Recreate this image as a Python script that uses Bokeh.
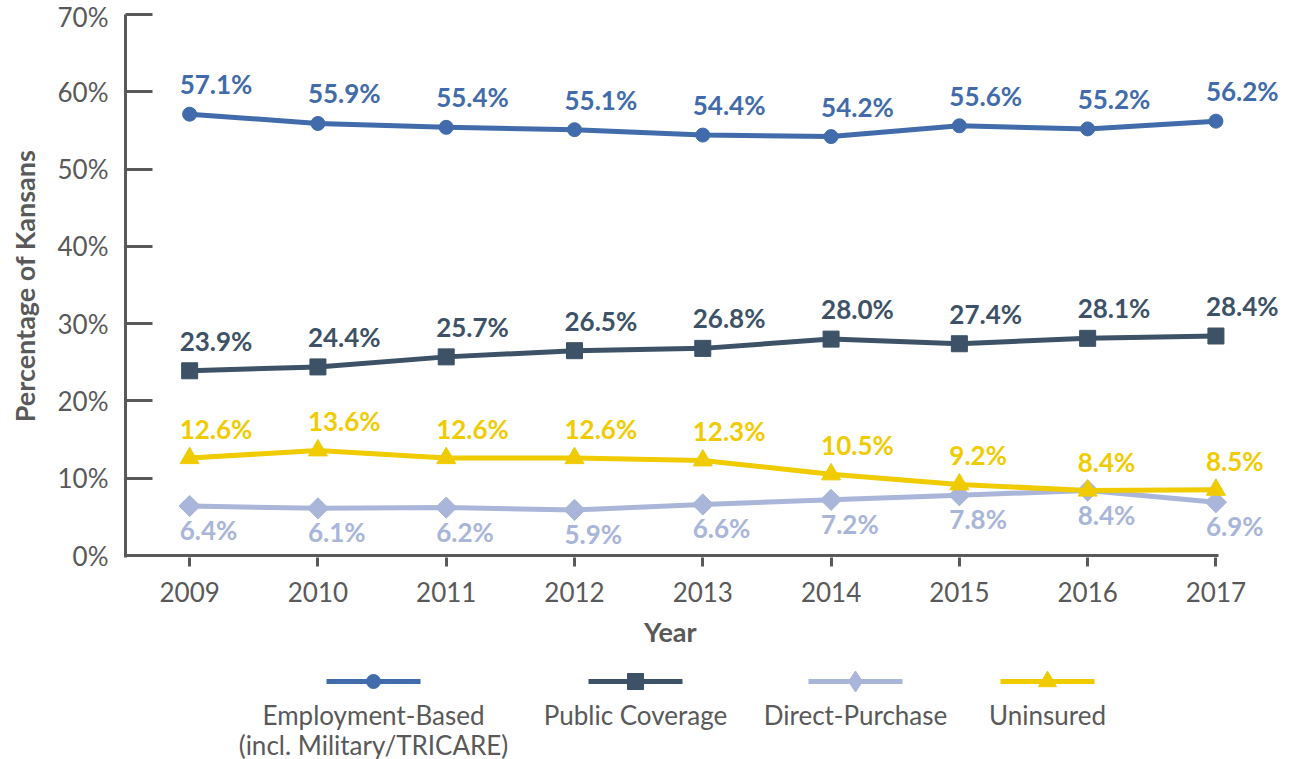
from bokeh.plotting import figure
from bokeh.models import ColumnDataSource, LabelSet, FixedTicker, PrintfTickFormatter, Range1d, Title
from bokeh.layouts import column
from bokeh.embed import file_html
from bokeh.resources import INLINE
from bokeh.core.properties import value
import math

years = [2009, 2010, 2011, 2012, 2013, 2014, 2015, 2016, 2017]
employment = [57.1, 55.9, 55.4, 55.1, 54.4, 54.2, 55.6, 55.2, 56.2]
public = [23.9, 24.4, 25.7, 26.5, 26.8, 28.0, 27.4, 28.1, 28.4]
direct = [6.4, 6.1, 6.2, 5.9, 6.6, 7.2, 7.8, 8.4, 6.9]
uninsured = [12.6, 13.6, 12.6, 12.6, 12.3, 10.5, 9.2, 8.4, 8.5]
series_names = ["Employment-Based\n(incl. Military/TRICARE)", "Public Coverage", "Direct-Purchase", "Uninsured"]
y_ticks = [0, 10, 20, 30, 40, 50, 60, 70]

FONT = "Lato"
GREY = "#595959"
colors = ["#416BAA", "#3D5266", "#A9B5D9", "#F0CB00"]
markers = ["circle", "square", "square", "triangle"]
angles = [0, 0, math.pi / 4, 0]
msizes = [14, 16, 15, 19]
leg_markers = ["circle", "square", "diamond", "triangle"]
leg_sizes = [14, 16, 21, 18]
data = [employment, public, direct, uninsured]
label_off = [-30, -30, 24, -29]
LBL = "26px"

# geometry of the frame (page pixels)
FR_L, FR_R_AXIS, FR_R, FR_T, FR_B0 = 125, 1218, 1290, 14, 555
X0 = years[0] - 0.5
X_AXIS_END = years[-1] + 0.02
ppu_x = (FR_R_AXIS - FR_L) / (X_AXIS_END - X0)
X_END = X0 + (FR_R - FR_L) / ppu_x
ppu_y = (FR_B0 - FR_T) / y_ticks[-1]
Y0 = -2 / ppu_y
H_MAIN = 665

p = figure(width=1292, height=H_MAIN, output_backend="svg", toolbar_location=None,
           x_range=Range1d(X0, X_END), y_range=Range1d(Y0, y_ticks[-1]),
           min_border_left=FR_L, min_border_right=1292 - FR_R, min_border_top=FR_T,
           min_border_bottom=H_MAIN - FR_B0 - 2)
p.background_fill_color = "white"
p.border_fill_color = "white"
p.outline_line_color = None
p.grid.grid_line_color = None

# x axis baseline (ends at the last category like the original)
p.segment(x0=[X0], y0=[0], x1=[X_AXIS_END], y1=[0], line_color=GREY, line_width=3)

for vals, c, m, a, s, off in zip(data, colors, markers, angles, msizes, label_off):
    src = ColumnDataSource(dict(x=years, y=vals, lab=["%.1f%%" % v for v in vals]))
    p.line("x", "y", source=src, line_color=c, line_width=5)
    p.scatter("x", "y", source=src, marker=m, angle=a, size=s, fill_color=c, line_color=c)
    p.add_layout(LabelSet(x="x", y="y", text="lab", source=src, y_offset=-off, x_offset=-10,
                          text_align="left", text_baseline="middle",
                          text_font=value(FONT), text_font_style="bold",
                          text_font_size=LBL, text_color=c))

# axes
p.xaxis.ticker = FixedTicker(ticks=years)
p.xaxis.major_label_overrides = {y: str(y) for y in years}
p.yaxis.ticker = FixedTicker(ticks=y_ticks)
p.yaxis.formatter = PrintfTickFormatter(format="%d%%")
for ax in [p.xaxis[0], p.yaxis[0]]:
    ax.axis_line_color = GREY
    ax.axis_line_width = 3
    ax.major_tick_line_color = GREY
    ax.major_tick_line_width = 3
    ax.minor_tick_line_color = None
    ax.major_label_text_font = FONT
    ax.major_label_text_font_size = "26px"
    ax.major_label_text_color = GREY
    ax.axis_label_text_font = FONT
    ax.axis_label_text_font_style = "bold"
    ax.axis_label_text_font_size = "27px"
    ax.axis_label_text_color = GREY
p.xaxis.axis_line_color = None
p.yaxis.major_tick_in = 27
p.yaxis.major_tick_out = 0
p.yaxis.major_label_standoff = 17
p.xaxis.major_tick_in = 0
p.xaxis.major_tick_out = 9
p.xaxis.major_label_standoff = 15
p.yaxis.axis_label = "Percentage of Kansans"
p.yaxis.axis_label_standoff = 14

# x-axis title centred under the drawn axis (not the widened frame)
xt = Title(text="Year", align="left", offset=(FR_L + FR_R_AXIS) / 2 - FR_L - 28,
           text_font=FONT, text_font_style="bold", text_font_size="27px",
           text_color=GREY, standoff=17)
p.add_layout(xt, "below")

# legend figure (frame aligned with the main one; coordinates in page pixels)
lg = figure(width=1292, height=759 - H_MAIN, output_backend="svg", toolbar_location=None,
            x_range=Range1d(FR_L, FR_R), y_range=Range1d(759, H_MAIN),
            min_border_left=FR_L, min_border_right=1292 - FR_R, min_border_top=0, min_border_bottom=0)
lg.outline_line_color = None
lg.grid.grid_line_color = None
lg.axis.visible = False
centers = [373, 635, 855, 1047]
for name, c, m, s, cx in zip(series_names, colors, leg_markers, leg_sizes, centers):
    lg.line([cx - 47, cx + 47], [681, 681], line_color=c, line_width=5)
    lg.scatter([cx], [681], marker=m, size=s, fill_color=c, line_color=c)
    for i, t in enumerate(name.split("\n")):
        lg.text([cx], [714 + 30 * i], text=[t], text_align="center", text_baseline="middle",
                text_font=value(FONT), text_font_size="26px", text_color=GREY)

layout = column(p, lg, spacing=0)
open("out.html", "w").write(file_html(layout, INLINE))
